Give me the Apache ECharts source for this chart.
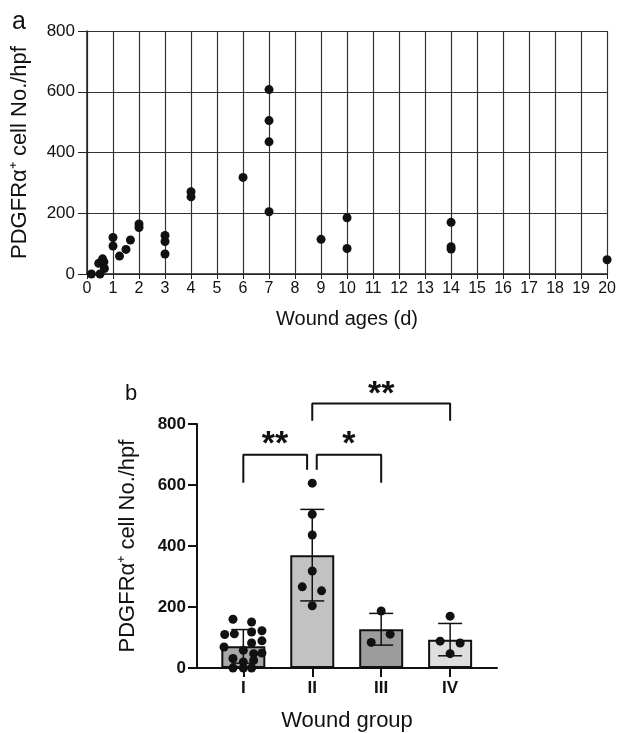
<!DOCTYPE html>
<html>
<head>
<meta charset="utf-8">
<script src="https://cdn.jsdelivr.net/npm/echarts@6/dist/echarts.min.js"></script>
<style>
  html, body { margin: 0; padding: 0; background: #fff; }
  #main { width: 619px; height: 733px; }
</style>
</head>
<body>
<div id="main"></div>
<script>
// panel a: wound age (days) vs cell count
var dayX = [0.17, 0.5, 0.45, 0.6, 0.65, 0.67, 1, 1, 1.25, 1.5, 1.67, 2, 2, 3, 3, 3, 4, 4, 6, 7, 7, 7, 7, 9, 10, 10, 14, 14, 14, 20];
var dayY = [0, 0, 35, 50, 40, 18, 120, 92, 59, 81, 112, 165, 153, 127, 107, 66, 271, 254, 318, 607, 505, 435, 205, 114, 185, 84, 170, 90, 82, 47];

// panel b: wound groups
var groupNames = ['I', 'II', 'III', 'IV'];
var groupMean = [71, 370, 127, 93];
var groupSD = [55, 150, 52, 53];
var groupColor = ['#a8a8a8', '#c2c2c2', '#9c9c9c', '#dedede'];

// individual points per group (group index, jitter, value)
var ptGroup = [0,0,0,0,0,0,0,0,0,0,0,0,0,0,0,0,0,0, 1,1,1,1,1,1,1, 2,2,2, 3,3,3,3];
var ptJitter = [-0.15,0.12,-0.27,-0.13,0.12,0.27,-0.28,0.12,0.27,0,0.15,0.27,-0.15,0,0.15,-0.15,0,0.12,
                0,0,0,0,-0.145,0.135,0,
                0,-0.145,0.13,
                0,-0.145,0.145,0];
var ptValue = [160,151,110,112,118,122,69,82,89,58,47,49,31,20,25,0,0,0,
               606,504,436,318,266,253,204,
               187,84,111,
               170,88,82,47];

// significance brackets
var bracketX = [[0, 0, 0.925, 0.925], [1.065, 1.065, 2, 2], [1, 1, 3, 3]];
var bracketY = [[607, 699, 699, 650], [650, 699, 699, 607], [811, 867, 867, 811]];
var starText = ['**', '*', '**'];
var starX = [0.46, 1.53, 2.0];
var starY = [732, 732, 897];

var FONT = 'Liberation Sans, Arial, sans-serif';
var yName = 'PDGFRα⁺ cell No./hpf';

var scatterA = dayX.map(function (x, i) { return [x, dayY[i]]; });
var barData = groupMean.map(function (m, i) {
    return { value: [i, m], itemStyle: { color: groupColor[i] } };
});
var errData = groupMean.map(function (m, i) { return [i, m - groupSD[i], m + groupSD[i]]; });
var ptsB = ptValue.map(function (v, i) { return [ptGroup[i] + ptJitter[i], v]; });
var starData = starX.map(function (x, i) { return [x, starY[i], i]; });

var bracketSeries = bracketX.map(function (xs, k) {
    return {
        type: 'line',
        xAxisIndex: 1, yAxisIndex: 1,
        data: xs.map(function (x, j) { return [x, bracketY[k][j]]; }),
        symbol: 'none',
        clip: false,
        lineStyle: { color: '#111', width: 2 },
        z: 5,
        silent: true
    };
});

var option = {
    animation: false,
    textStyle: { fontFamily: FONT },
    graphic: [
        { type: 'text', left: 12, top: 10, style: { text: 'a', font: '25px ' + FONT, fill: '#111' } },
        { type: 'text', left: 125, top: 383, style: { text: 'b', font: '22px ' + FONT, fill: '#111' } }
    ],
    grid: [
        { left: 87, right: 11, top: 31, bottom: 459 },
        { left: 197, right: 122, top: 424, bottom: 65 }
    ],
    xAxis: [
        {
            gridIndex: 0, type: 'value', min: 0, max: 20, interval: 1,
            name: 'Wound ages (d)', nameLocation: 'middle', nameGap: 35,
            nameTextStyle: { fontSize: 20, color: '#111', fontFamily: FONT },
            axisLine: { onZero: false, lineStyle: { color: '#222', width: 1.5 } },
            axisTick: { length: 5, lineStyle: { color: '#222' } },
            axisLabel: { fontSize: 16, color: '#111', margin: 7, fontFamily: FONT },
            splitLine: { show: true, lineStyle: { color: '#333', width: 1.2 } }
        },
        {
            gridIndex: 1, type: 'value', min: -0.672, max: 3.68,
            name: 'Wound group', nameLocation: 'middle', nameGap: 42,
            nameTextStyle: { fontSize: 22, color: '#111', fontFamily: FONT },
            axisLine: { onZero: false, lineStyle: { color: '#111', width: 2 } },
            axisTick: { customValues: [0, 1, 2, 3], length: 9, lineStyle: { color: '#111', width: 2 } },
            axisLabel: {
                customValues: [0, 1, 2, 3], fontSize: 17, fontWeight: 'bold', color: '#111', margin: 12,
                fontFamily: FONT,
                formatter: function (v) { return groupNames[Math.round(v)]; }
            },
            splitLine: { show: false }
        }
    ],
    yAxis: [
        {
            gridIndex: 0, type: 'value', min: 0, max: 800, interval: 200,
            name: yName, nameLocation: 'middle', nameGap: 56,
            nameTextStyle: { fontSize: 22, color: '#111', fontFamily: FONT },
            axisLine: { show: true, onZero: false, lineStyle: { color: '#222', width: 1.5 } },
            axisTick: { show: true, length: 9, lineStyle: { color: '#222' } },
            axisLabel: { fontSize: 17, color: '#111', margin: 12, fontFamily: FONT },
            splitLine: { show: true, lineStyle: { color: '#333', width: 1.2 } }
        },
        {
            gridIndex: 1, type: 'value', min: 0, max: 800, interval: 200,
            name: yName, nameLocation: 'middle', nameGap: 58,
            nameTextStyle: { fontSize: 22, color: '#111', fontFamily: FONT },
            axisLine: { show: true, onZero: false, lineStyle: { color: '#111', width: 2 } },
            axisTick: { show: true, length: 9, lineStyle: { color: '#111', width: 2 } },
            axisLabel: { fontSize: 17, fontWeight: 'bold', color: '#111', margin: 11, fontFamily: FONT },
            splitLine: { show: false }
        }
    ],
    series: [
        {
            type: 'scatter', xAxisIndex: 0, yAxisIndex: 0,
            data: scatterA, symbolSize: 9,
            itemStyle: { color: '#111', opacity: 1 },
            z: 4
        },
        {
            type: 'bar', xAxisIndex: 1, yAxisIndex: 1,
            data: barData, barWidth: 44,
            itemStyle: { borderColor: '#111', borderWidth: 2 },
            z: 2
        },
        {
            type: 'custom', xAxisIndex: 1, yAxisIndex: 1,
            data: errData,
            z: 3,
            renderItem: function (params, api) {
                var x = api.value(0);
                var lo = api.coord([x, api.value(1)]);
                var hi = api.coord([x, api.value(2)]);
                var cap = 12;
                var st = { stroke: '#111', lineWidth: 1.5 };
                return {
                    type: 'group',
                    children: [
                        { type: 'line', shape: { x1: hi[0], y1: hi[1], x2: lo[0], y2: lo[1] }, style: st },
                        { type: 'line', shape: { x1: hi[0] - cap, y1: hi[1], x2: hi[0] + cap, y2: hi[1] }, style: st },
                        { type: 'line', shape: { x1: lo[0] - cap, y1: lo[1], x2: lo[0] + cap, y2: lo[1] }, style: st }
                    ]
                };
            }
        },
        {
            type: 'scatter', xAxisIndex: 1, yAxisIndex: 1,
            data: ptsB, symbolSize: 9,
            itemStyle: { color: '#111', opacity: 1 },
            z: 4
        },
        {
            type: 'custom', xAxisIndex: 1, yAxisIndex: 1,
            data: starData,
            clip: false,
            z: 6, silent: true,
            renderItem: function (params, api) {
                var p = api.coord([api.value(0), api.value(1)]);
                return {
                    type: 'text',
                    x: p[0], y: p[1],
                    style: {
                        text: starText[api.value(2)],
                        font: 'bold 34px ' + FONT,
                        fill: '#111',
                        align: 'center',
                        verticalAlign: 'middle'
                    }
                };
            }
        }
    ].concat(bracketSeries)
};

var myChart = echarts.init(document.getElementById('main'));
myChart.setOption(option);
</script>
</body>
</html>
